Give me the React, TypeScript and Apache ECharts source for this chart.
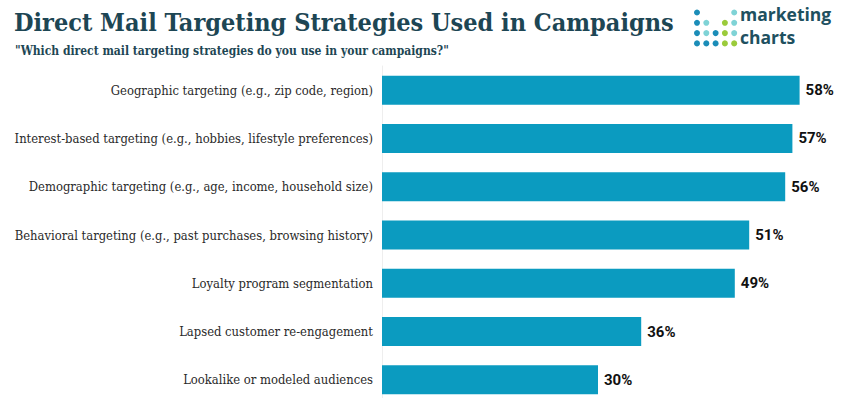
import React, { useEffect, useRef } from "react";
import * as echarts from "echarts";

const categories = [
  "Geographic targeting (e.g., zip code, region)",
  "Interest-based targeting (e.g., hobbies, lifestyle preferences)",
  "Demographic targeting (e.g., age, income, household size)",
  "Behavioral targeting (e.g., past purchases, browsing history)",
  "Loyalty program segmentation",
  "Lapsed customer re-engagement",
  "Lookalike or modeled audiences",
];
const values = [58, 57, 56, 51, 49, 36, 30];

const titleText = "Direct Mail Targeting Strategies Used in Campaigns";
const subtitleText = '"Which direct mail targeting strategies do you use in your campaigns?"';

const BLUE = "#1b8db8";
const TEAL = "#7fd3d6";
const GREEN = "#9bcb3b";
// logo dot layout: [col, row, colorKey]
const logoDots: [number, number, string][] = [
  [0, 0, BLUE], [4, 0, TEAL],
  [0, 1, BLUE], [1, 1, TEAL], [3, 1, GREEN], [4, 1, TEAL],
  [0, 2, BLUE], [1, 2, TEAL], [2, 2, BLUE], [3, 2, GREEN], [4, 2, TEAL],
  [0, 3, BLUE], [1, 3, BLUE], [2, 3, BLUE], [3, 3, GREEN], [4, 3, GREEN],
];

export default function App() {
  const ref = useRef<HTMLDivElement>(null);
  useEffect(() => {
    const chart = echarts.init(ref.current!, null, { renderer: "svg" });
    const dark = "#1d4654";
    chart.setOption({
      animation: false,
      title: [
        {
          text: titleText,
          left: 9,
          top: 5,
          textStyle: {
            fontFamily: "DejaVu Serif Condensed",
            fontWeight: "bold",
            fontSize: 25,
            color: dark,
          },
        },
        {
          text: subtitleText,
          left: 10,
          top: 40,
          textStyle: {
            fontFamily: "DejaVu Serif Condensed",
            fontWeight: "bold",
            fontSize: 12,
            color: dark,
          },
        },
      ],
      graphic: [
        ...logoDots.map(([c, r, col]) => ({
          type: "circle",
          shape: { cx: 697 + c * 9.3, cy: 12.5 + r * 10.3, r: 3 },
          style: { fill: col },
        })),
        {
          type: "text",
          x: 740,
          y: 5,
          style: {
            text: "marketing",
            font: "bold 17.5px 'Open Sans'",
            fill: "#20505f",
          },
        },
        {
          type: "text",
          x: 740,
          y: 28,
          style: {
            text: "charts",
            font: "bold 17.5px 'Open Sans'",
            fill: "#20505f",
          },
        },
      ],
      grid: { left: 382, top: 66, width: 432, height: 338, containLabel: false },
      xAxis: {
        type: "value",
        min: 0,
        max: 60,
        show: false,
      },
      yAxis: {
        type: "category",
        data: categories,
        inverse: true,
        axisTick: { show: false },
        axisLine: { show: true, lineStyle: { color: "#eeeeee", width: 1 } },
        axisLabel: {
          margin: 9,
          fontFamily: "DejaVu Serif Condensed",
          fontSize: 12.9,
          color: "#2a2a2a",
        },
      },
      series: [
        {
          type: "bar",
          data: values,
          barCategoryGap: "40%",
          itemStyle: { color: "#0b9bc0" },
          label: {
            show: true,
            position: "right",
            distance: 6,
            formatter: "{c}%",
            fontFamily: "Roboto",
            fontWeight: "bold",
            fontSize: 15,
            color: "#111111",
          },
        },
      ],
    });
    return () => chart.dispose();
  }, []);
  return (
    <div style={{ position: "absolute", left: 0, top: 0, width: 841, height: 398, overflow: "hidden" }}>
      <div ref={ref} style={{ width: 841, height: 420 }} />
    </div>
  );
}
